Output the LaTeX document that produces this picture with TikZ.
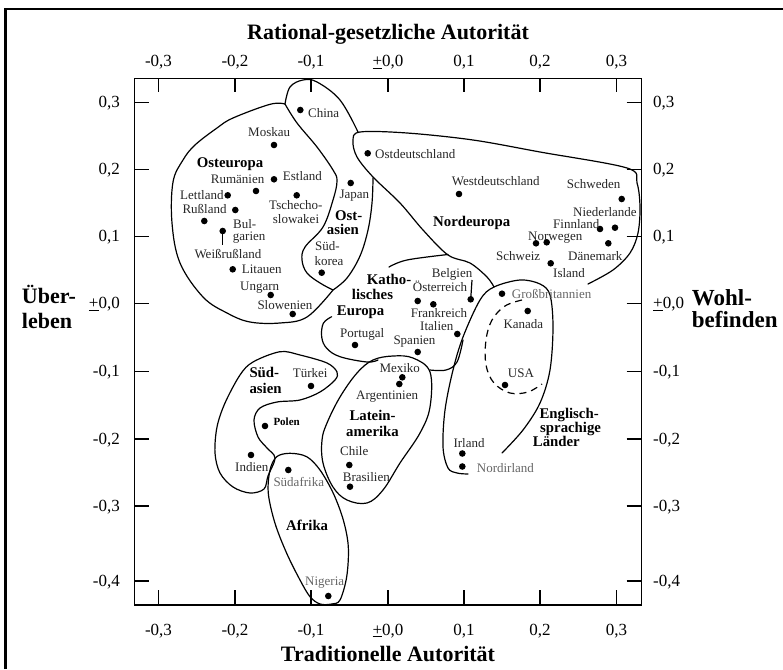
\documentclass[tikz,border=0pt]{standalone}
\usepackage{fontspec}
\setmainfont{Liberation Serif}
\begin{document}
\begin{tikzpicture}[x=1pt,y=-1pt,
  region/.style={line width=1.2pt, line join=round, line cap=round},
  dot/.style={circle, fill=black, inner sep=0pt, minimum size=6.6pt},
  cty/.style={anchor=base west, inner sep=0pt, yshift=-3.9pt, text=black!85,
    font=\fontsize{13}{15}\selectfont},
  ctylight/.style={cty, text=black!60},
  grp/.style={anchor=base west, inner sep=0pt, yshift=-4.4pt,
    font=\bfseries\fontsize{14.8}{17}\selectfont},
  tick/.style={line width=1.3pt},
  ticklab/.style={inner sep=0pt, yshift=-5pt, font=\fontsize{17}{19}\selectfont},
  axtitle/.style={inner sep=0pt, yshift=-6.6pt, font=\bfseries\fontsize{22}{26}\selectfont}]

\useasboundingbox (0,0) rectangle (783,669);

% outer frame (left and top edges)
\draw[line width=2.2pt] (5.5,669) -- (5.5,9) -- (783,9);

% plot frame
\draw[line width=1.4pt] (134.3,78.3) rectangle (641.7,605);

% ticks and tick labels
\foreach \x/\l [count=\i] in {158.5/{-0,3}, 235/{-0,2}, 311/{-0,1}, 388/{\underline{+}0,0}, 464/{0,1}, 540/{0,2}, 616.5/{0,3}} {
  \draw[tick] (\x,78.3) -- (\x,91.7);
  \draw[tick] (\x,590) -- (\x,605);
  \node[ticklab, anchor=base] (xt\i) at (\x,61.7) {\l};
  \node[ticklab, anchor=base] (xb\i) at (\x,630) {\l};
}
\foreach \y/\l [count=\i] in {102.7/{0,3}, 169.6/{0,2}, 236.5/{0,1}, 303.3/{\underline{+}0,0}, 371.7/{-0,1}, 439/{-0,2}, 506/{-0,3}, 581/{-0,4}} {
  \draw[tick] (134.3,\y) -- (149.3,\y);
  \draw[tick] (626.7,\y) -- (641.7,\y);
  \node[ticklab, anchor=base east] (yl\i) at (120,\y) {\l};
  \node[ticklab, anchor=base west] (yr\i) at (653,\y) {\l};
}

% axis titles
\node[axtitle, anchor=base] (ttop) at (388,33) {Rational-gesetzliche Autorität};
\node[axtitle, anchor=base] (tbot) at (388,654.5) {Traditionelle Autorität};
\node[axtitle, anchor=base west] (tleft1) at (21.7,296.7) {Über-};
\node[axtitle, anchor=base west] (tleft2) at (21.7,321.7) {leben};
\node[axtitle, anchor=base west, font=\bfseries\fontsize{23}{27}\selectfont] (tright1) at (691.7,299.3) {Wohl-};
\node[axtitle, anchor=base west, font=\bfseries\fontsize{23}{27}\selectfont] (tright2) at (691.7,321) {befinden};

% ---- cultural zones ----
% Osteuropa, outer edge
\draw[region] plot[smooth, tension=0.6] coordinates {(285,104) (270,104.3) (233,118) (217,128) (195,145) (183,160) (173,182) (172,223) (180,263) (203,297) (227,313) (250,322) (280,323) (307,317) (333,290)};
% border between Osteuropa and Ostasien
\draw[region] plot[smooth, tension=0.6] coordinates {(285,104) (297,123) (317,147) (333,170) (337,181) (333,200) (323,227) (305,247) (302,260) (307,273) (320,283) (333,290)};
% Ostasien, upper edge and right edge
\draw[region] plot[smooth, tension=0.6] coordinates {(285,104) (290,87) (303,80) (317,82) (340,100) (358,132)};
\draw[region] plot[smooth, tension=0.6] coordinates {(373,178) (372,203) (368,230) (360,256) (347,278) (333,290)};
% Nordeuropa
\draw[region] plot[smooth, tension=0.55] coordinates {(494,287) (487,277) (470,263) (448,255) (423,230) (400,203) (373,177) (357,157) (353,141) (360,132) (407,133) (473,140) (540,152) (627,168) (637,183) (640,207) (638,233) (630,253) (613,270) (588,284)};
% Englischsprachige Laender
\draw[region] plot[smooth, tension=0.55] coordinates {(468,474) (457,473) (448,468) (443,447) (445,410) (453,370) (463,337) (480,300) (494,287) (520,280) (540,284) (550,295) (553,327) (550,370) (540,403) (523,430) (502,453)};
% Katholisches Europa
\draw[region] plot[smooth, tension=0.6] coordinates {(389,267) (407,260) (448,254.5)};
\draw[region] plot[smooth, tension=0.6] coordinates {(331.7,316.7) (323.3,323.3) (321.7,337) (326.7,348.3) (340,356.7) (367,362) (378,360)};
\draw[region] plot[smooth, tension=0.6] coordinates {(430,370) (446,370) (457,362) (463,340)};
% Lateinamerika
\draw[region] plot[smooth cycle, tension=0.6] coordinates {(373,360) (393,356) (413,358) (430,372) (430,407) (420,433) (400,463) (383,490) (367,503) (347,500) (333,487) (323,463) (322,440) (327,423) (340,397) (357,373)};
% Suedasien
\draw[region] plot[smooth cycle, tension=0.55] coordinates {(280,351.7) (300,355) (327,363) (337,372) (335,380) (320,392) (300,400) (277,402) (260,408) (254,420) (258,437) (267,448) (275,458) (268,476) (264,489) (250,493) (233,487) (220,473) (215,453) (217,427) (225,403) (240,375) (253,362)};
% Afrika
\draw[region] plot[smooth cycle, tension=0.55] coordinates {(276.7,456.7) (290,453.3) (306.7,456.7) (320,470) (333.3,493.3) (343.3,520) (348.3,546.7) (346.7,576.7) (340,600) (331.7,604) (320,604) (310,596.7) (300,580) (286.7,553.3) (275,523.3) (268.3,493.3) (270,470)};
% Nordamerika (dashed)
\draw[region, line cap=butt, dash pattern=on 7pt off 5pt] plot[smooth, tension=0.6] coordinates {(522,300) (505,306) (492,320) (486,340) (486,365) (494,383) (510,393) (528,392) (542,384)};

% ---- countries ----
\node[dot] (dChina) at (300.3,110) {};
\node[dot] (dMoskau) at (274,145) {};
\node[dot] (dEstland) at (274,179.3) {};
\node[dot] (dRumaenien) at (256,191) {};
\node[dot] (dTschecho) at (296.7,195.3) {};
\node[dot] (dLettland) at (227.7,195.3) {};
\node[dot] (dBulgarien) at (235.3,210) {};
\node[dot] (dRussland) at (204.3,221) {};
\node[dot] (dWeissr) at (222.7,231) {};
\node[dot] (dLitauen) at (232.7,269.3) {};
\node[dot] (dUngarn) at (270.7,295) {};
\node[dot] (dSlowenien) at (292.7,314) {};
\node[dot] (dJapan) at (350.7,183) {};
\node[dot] (dSuedkorea) at (321.7,272.7) {};
\node[dot] (dOstd) at (367.7,153.3) {};
\node[dot] (dWestd) at (459,194) {};
\node[dot] (dSchweden) at (621.7,199) {};
\node[dot] (dNiederl) at (615,227.7) {};
\node[dot] (dFinnland) at (600,229) {};
\node[dot] (dDaenemark) at (608.3,243.3) {};
\node[dot] (dNorwegen) at (546.7,242.3) {};
\node[dot] (dSchweiz) at (536,243.3) {};
\node[dot] (dIsland) at (550.7,263.3) {};
\node[dot] (dGB) at (502,293.7) {};
\node[dot] (dKanada) at (527.7,311) {};
\node[dot] (dUSA) at (505,385) {};
\node[dot] (dIrland) at (462.3,453.5) {};
\node[dot] (dNordirland) at (462.3,466.5) {};
\node[dot] (dBelgien) at (470.7,299.3) {};
\node[dot] (dOesterreich) at (417.7,301) {};
\node[dot] (dFrankreich) at (433.3,304.3) {};
\node[dot] (dItalien) at (457.3,334) {};
\node[dot] (dSpanien) at (417.7,352) {};
\node[dot] (dPortugal) at (355,345) {};
\node[dot] (dMexiko) at (402.3,377.3) {};
\node[dot] (dArgentinien) at (399.3,384) {};
\node[dot] (dTuerkei) at (311,386) {};
\node[dot] (dPolen) at (265,426) {};
\node[dot] (dIndien) at (251,455) {};
\node[dot] (dSuedafrika) at (288.3,470) {};
\node[dot] (dChile) at (349.3,465) {};
\node[dot] (dBrasilien) at (350,486.7) {};
\node[dot] (dNigeria) at (328.3,596) {};

% pointer lines
\coordinate (pBelgien) at (472,280);
\coordinate (pWeissr) at (222.7,245);
\draw[line width=1.2pt] (dBelgien.center) -- (pBelgien);
\draw[line width=1.2pt] (dWeissr.center) -- (pWeissr);

% country labels
\node[cty] (lChina) at (308,114) {China};
\node[cty] (lMoskau) at (248,132.3) {Moskau};
\node[cty] (lEstland) at (282.7,176.7) {Estland};
\node[cty] (lRumaenien) at (210.7,180) {Rumänien};
\node[cty] (lTschecho1) at (269,206) {Tschecho-};
\node[cty] (lTschecho2) at (272.7,220) {slowakei};
\node[cty] (lLettland) at (180,196) {Lettland};
\node[cty] (lRussland) at (182.3,210) {Rußland};
\node[cty] (lBulgarien1) at (233,224.3) {Bul-};
\node[cty] (lBulgarien2) at (232.7,236.7) {garien};
\node[cty] (lWeissr) at (194.3,254.3) {Weißrußland};
\node[cty] (lLitauen) at (241.7,270) {Litauen};
\node[cty] (lUngarn) at (240,286.7) {Ungarn};
\node[cty] (lSlowenien) at (257.3,306) {Slowenien};
\node[cty] (lJapan) at (339.3,194.3) {Japan};
\node[cty] (lSuedkorea1) at (315,246.7) {Süd-};
\node[cty] (lSuedkorea2) at (314.3,261.7) {korea};
\node[cty] (lOstd) at (375,155) {Ostdeutschland};
\node[cty] (lWestd) at (451.7,181.7) {Westdeutschland};
\node[cty] (lSchweden) at (566.7,185) {Schweden};
\node[cty] (lNiederl) at (573,212.3) {Niederlande};
\node[cty] (lFinnland) at (553,224.6) {Finnland};
\node[cty] (lNorwegen) at (528,236.6) {Norwegen};
\node[cty] (lSchweiz) at (496,257) {Schweiz};
\node[cty] (lDaenemark) at (568,257) {Dänemark};
\node[cty] (lIsland) at (553,274) {Island};
\node[cty] (lBelgien) at (431.7,274) {Belgien};
\node[cty] (lOesterreich) at (412.7,287.7) {Österreich};
\node[cty] (lFrankreich) at (410.7,313.3) {Frankreich};
\node[cty] (lItalien) at (420,326.7) {Italien};
\node[cty] (lSpanien) at (393.3,341) {Spanien};
\node[cty] (lPortugal) at (340,334) {Portugal};
\node[ctylight] (lGB) at (511.7,294.3) {Großbritannien};
\node[cty] (lKanada) at (503.3,325) {Kanada};
\node[cty] (lUSA) at (507.7,374) {USA};
\node[cty] (lMexiko) at (379.3,368.3) {Mexiko};
\node[cty] (lArgentinien) at (356,396) {Argentinien};
\node[cty] (lTuerkei) at (292.7,373.3) {Türkei};
\node[cty, yshift=0.4pt, font=\bfseries\fontsize{11}{13}\selectfont, text=black] (lPolen) at (273.3,421.7) {Polen};
\node[cty] (lIndien) at (235,467.3) {Indien};
\node[ctylight] (lSuedafrika) at (273.3,482.3) {Südafrika};
\node[cty] (lChile) at (340,451.7) {Chile};
\node[cty] (lBrasilien) at (342.7,477.7) {Brasilien};
\node[ctylight] (lNigeria) at (305,581.7) {Nigeria};
\node[cty] (lIrland) at (453.3,444) {Irland};
\node[ctylight] (lNordirland) at (476.7,468.3) {Nordirland};

% zone labels
\node[grp] (gOsteuropa) at (196.7,162.7) {Osteuropa};
\node[grp] (gOstasien1) at (335,216) {Ost-};
\node[grp] (gOstasien2) at (326.7,230) {asien};
\node[grp] (gNordeuropa) at (433,221.7) {Nordeuropa};
\node[grp] (gKath1) at (366.7,280) {Katho-};
\node[grp] (gKath2) at (351.7,295) {lisches};
\node[grp] (gKath3) at (336.7,310.7) {Europa};
\node[grp] (gSuedasien1) at (249.3,373.3) {Süd-};
\node[grp] (gSuedasien2) at (249.3,389.3) {asien};
\node[grp] (gLatein1) at (349.3,415.7) {Latein-};
\node[grp] (gLatein2) at (346,431.7) {amerika};
\node[grp] (gAfrika) at (286,525.7) {Afrika};
\node[grp] (gEngl1) at (539.3,414) {Englisch-};
\node[grp] (gEngl2) at (540,428.3) {sprachige};
\node[grp] (gEngl3) at (532.7,441.7) {Länder};

\end{tikzpicture}
\end{document}
